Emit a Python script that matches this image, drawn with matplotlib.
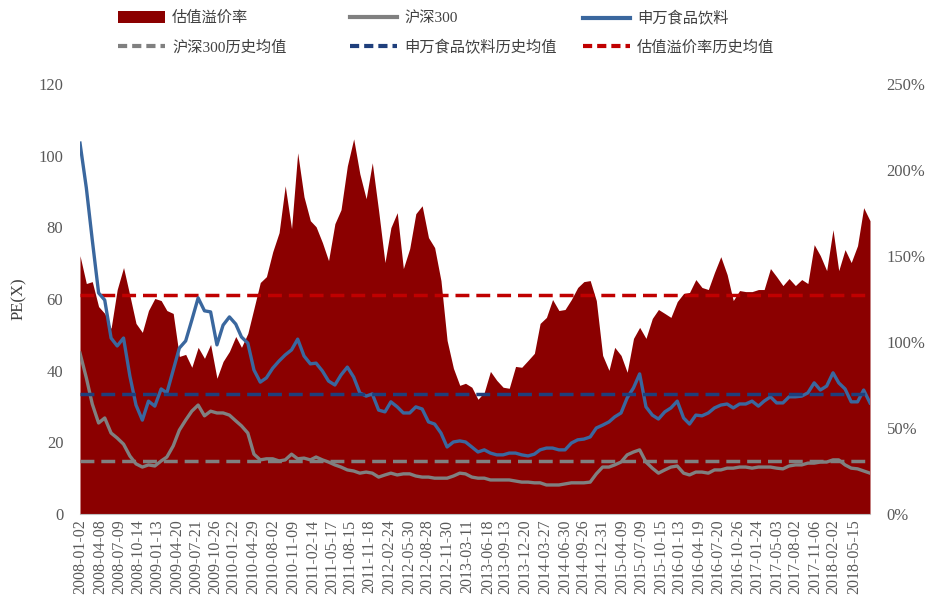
import matplotlib
matplotlib.use('Agg')
import matplotlib.pyplot as plt
from matplotlib.patches import Patch
from matplotlib.lines import Line2D
from matplotlib.ticker import FuncFormatter
import pandas as pd

plt.rcParams['font.family'] = ['Liberation Serif', 'Noto Sans CJK SC']

# ---------------- data (monthly samples) ----------------
dates = pd.date_range('2008-01-01', '2018-08-01', freq='MS')

premium = [150.2,134.0,135.1,120.6,116.6,107.9,130.5,143.3,127.0,110.8,
           105.6,118.3,125.3,124.1,118.3,116.6,91.6,92.8,85.3,96.9,
           90.5,98.6,78.9,88.7,94.5,103.2,96.9,105.0,119.5,134.6,
           138.0,152.5,163.6,190.8,165.9,210.0,184.4,170.5,167.0,157.8,
           147.3,168.8,176.9,202.4,218.1,197.8,183.3,204.2,176.3,146.2,
           166.5,175.2,142.7,154.3,174.6,179.2,160.7,154.9,135.7,100.9,
           84.7,74.8,76.0,73.7,66.7,70.8,82.9,77.7,73.7,73.1,
           85.8,85.3,89.3,93.4,110.8,114.3,124.7,118.3,118.9,124.7,
           131.7,135.1,135.7,124.1,92.2,83.5,96.9,92.2,82.4,102.1,
           108.5,102.1,113.7,118.9,116.6,114.3,123.5,128.2,128.8,136.3,
           131.7,130.5,140.4,149.6,139.2,124.1,129.9,129.3,129.3,130.5,
           130.5,142.7,138.0,132.8,136.9,132.8,136.3,134.0,156.6,150.2,
           141.5,165.3,141.5,153.7,146.2,156.0,178.1,170.5]

food_pe = [103.5,91.0,76.5,61.7,59.7,49.1,46.9,49.1,38.5,30.4,
           26.2,31.5,30.1,34.9,33.8,40.2,46.3,48.3,54.1,60.3,
           56.7,56.4,47.2,52.7,55.0,53.0,49.4,47.7,40.2,36.8,
           38.0,40.7,42.7,44.4,45.8,48.8,44.1,41.9,42.1,39.9,
           37.1,36.0,38.8,41.0,38.2,33.8,32.9,33.5,29.0,28.5,
           31.3,29.9,28.2,28.2,29.9,29.3,25.7,25.1,22.6,18.7,
           20.1,20.4,20.1,18.7,17.3,17.9,17.0,16.5,16.5,17.0,
           17.0,16.5,16.2,16.7,17.9,18.4,18.4,17.9,17.9,19.8,
           20.7,20.9,21.5,24.0,24.8,25.7,27.1,28.2,32.4,35.2,
           39.1,29.9,27.6,26.5,28.5,29.6,31.5,26.8,25.1,27.6,
           27.4,28.2,29.6,30.4,30.7,29.6,30.7,30.7,31.5,30.1,
           31.5,32.7,31.0,31.0,32.7,32.7,32.9,33.8,36.6,34.6,
           35.7,39.4,36.6,34.9,31.3,31.3,34.6,31.0]

hs300_pe = [44.9,38.0,30.7,25.4,26.8,22.6,21.2,19.5,16.2,14.0,
            13.1,13.7,13.4,14.8,15.9,19.0,23.4,26.2,28.7,30.4,
            27.4,28.7,28.2,28.2,27.6,26.0,24.6,22.6,16.7,15.1,
            15.4,15.4,14.8,15.1,16.7,15.4,15.6,15.1,15.9,15.1,
            14.5,13.7,13.1,12.3,12.0,11.4,11.7,11.4,10.3,10.9,
            11.4,10.9,11.2,11.2,10.6,10.3,10.3,10.0,10.0,10.0,
            10.6,11.4,11.2,10.3,10.0,10.0,9.5,9.5,9.5,9.5,
            9.2,8.9,8.9,8.7,8.7,8.1,8.1,8.1,8.4,8.7,
            8.7,8.7,8.9,11.2,13.1,13.1,13.7,14.5,16.5,17.3,
            17.9,14.5,12.8,11.4,12.3,13.1,13.4,11.4,10.9,11.7,
            11.7,11.4,12.3,12.3,12.8,12.8,13.1,13.1,12.8,13.1,
            13.1,13.1,12.8,12.6,13.4,13.7,13.7,14.2,14.2,14.5,
            14.5,15.1,15.1,13.7,12.8,12.6,12.0,11.4]

premium_avg = 127.6
food_avg = 33.6
hs300_avg = 14.8

tick_labels = ['2008-01-02','2008-04-08','2008-07-09','2008-10-14','2009-01-13',
               '2009-04-20','2009-07-21','2009-10-26','2010-01-22','2010-04-29',
               '2010-08-02','2010-11-09','2011-02-14','2011-05-17','2011-08-15',
               '2011-11-18','2012-02-24','2012-05-30','2012-08-28','2012-11-30',
               '2013-03-11','2013-06-18','2013-09-13','2013-12-20','2014-03-27',
               '2014-06-30','2014-09-26','2014-12-31','2015-04-09','2015-07-09',
               '2015-10-15','2016-01-13','2016-04-19','2016-07-20','2016-10-26',
               '2017-01-24','2017-05-03','2017-08-02','2017-11-06','2018-02-02',
               '2018-05-15']

names = ['估值溢价率', '沪深300', '申万食品饮料',
         '沪深300历史均值', '申万食品饮料历史均值', '估值溢价率历史均值']

# ---------------- styles ----------------
c_area = '#8B0000'
c_gray = '#808080'
c_blue = '#3A679E'
c_blue_d = '#1F3F7C'
c_red_d = '#C00000'
c_text = '#595959'
dash = (0, (4, 2))

fig = plt.figure(figsize=(9.26, 6.01), dpi=100)
ax = fig.add_axes([80/926, 87/601, 790/926, 430/601])
ax2 = ax.twinx()

ax2.fill_between(dates, 0, premium, color=c_area, lw=0)
ax2.axhline(premium_avg, color=c_red_d, lw=2.5, ls=dash, xmax=0.997)
ax2.set_ylim(0, 250)
ax2.set_yticks(range(0, 251, 50))
ax2.yaxis.set_major_formatter(FuncFormatter(lambda v, p: f'{int(v)}%'))

ax.set_zorder(ax2.get_zorder() + 1)
ax.patch.set_visible(False)

ax.plot(dates, hs300_pe, color=c_gray, lw=2.4)
ax.plot(dates, food_pe, color=c_blue, lw=2.4)
ax.axhline(hs300_avg, color=c_gray, lw=2.5, ls=dash, xmax=0.997)
ax.axhline(food_avg, color=c_blue_d, lw=2.5, ls=dash, xmax=0.997)
ax.set_ylim(0, 120)
ax.set_yticks(range(0, 121, 20))
ax.set_xlim(dates[0], dates[-1])
ax.set_xticks(pd.to_datetime(tick_labels))
ax.set_xticklabels(tick_labels, rotation=90)
ax.set_ylabel('PE(X)', fontsize=12, color='#404040', labelpad=8)

for a in (ax, ax2):
    for s in a.spines.values():
        s.set_visible(False)
    a.tick_params(length=0, colors=c_text, labelsize=12)
ax.spines['bottom'].set_visible(True)
ax.spines['bottom'].set_color('#BFBFBF')
ax.tick_params(axis='x', pad=4, labelsize=11.5)
ax.tick_params(axis='y', pad=12)
ax2.tick_params(axis='y', pad=12)

# ---------------- legend (three columns) ----------------
h_area = Patch(facecolor=c_area, edgecolor='none')
h_gray = Line2D([], [], color=c_gray, lw=3)
h_blue = Line2D([], [], color=c_blue, lw=3)
h_gray_d = Line2D([], [], color=c_gray, lw=3, ls=(0, (2.2, 1.2)))
h_blue_d = Line2D([], [], color=c_blue_d, lw=3, ls=(0, (2.2, 1.2)))
h_red_d = Line2D([], [], color=c_red_d, lw=3, ls=(0, (2.2, 1.2)))

cols = [([h_area, h_gray_d], [names[0], names[3]], 118),
        ([h_gray, h_blue_d], [names[1], names[4]], 350),
        ([h_blue, h_red_d], [names[2], names[5]], 583)]
for hs, ls_, xpx in cols:
    fig.legend(hs, ls_, loc='upper left', bbox_to_anchor=(xpx/926, 1 - 11/601),
               frameon=False, fontsize=11, handlelength=3.1, handleheight=0.8,
               handletextpad=0.45, labelspacing=0.95, borderpad=0, borderaxespad=0,
               labelcolor='#404040')

fig.savefig('out.png', dpi=100)
